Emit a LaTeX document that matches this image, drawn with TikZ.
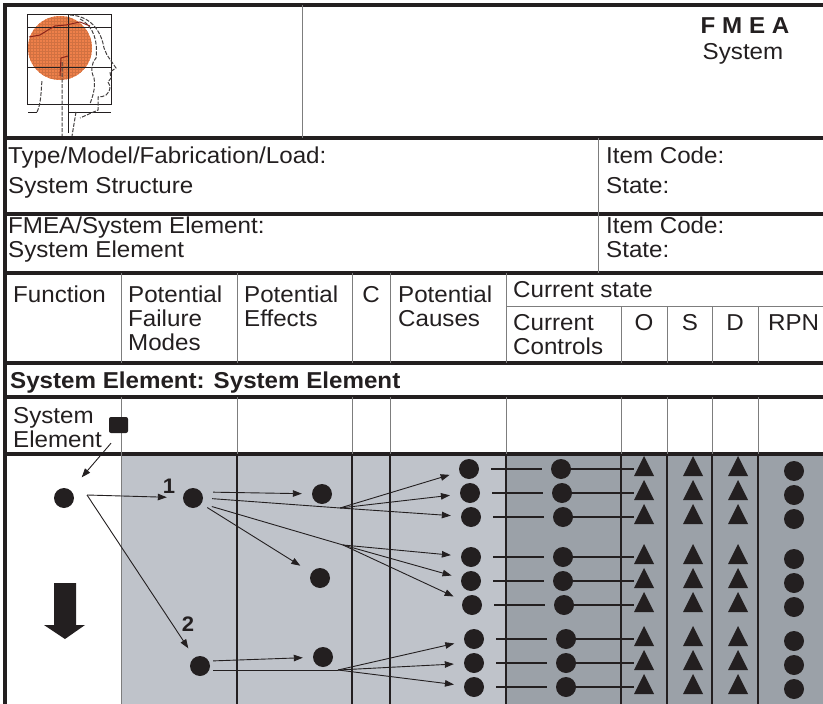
\documentclass[tikz,border=0pt]{standalone}
\usepackage{fontspec}
\setmainfont{Liberation Sans}[FakeStretch=1.05]
\usetikzlibrary{positioning,arrows.meta}

\definecolor{ink}{RGB}{35,31,32}
\definecolor{panel}{RGB}{191,195,202}
\definecolor{panel dark}{RGB}{155,161,168}
\definecolor{rule}{RGB}{125,125,125}
\definecolor{skull}{RGB}{238,128,74}
\definecolor{skull line}{RGB}{140,35,25}

\begin{document}
\begin{tikzpicture}
    [
      x=1pt, y=1pt,
      >/.tip={Triangle[length=9pt,width=6.5pt]},
      font=\fontsize{23}{24}\selectfont,
      text=ink,
      thick rule/.style={draw=ink, line width=3.5pt},
      thin rule/.style={draw=rule, line width=0.8pt},
      panel rule/.style={draw=ink, line width=1.6pt},
      % base of a multi-line cell is the baseline of its last line
      cell/.style={anchor=base west, inner sep=0pt, align=left},
      my dot/.style={circle, fill=ink, inner sep=0pt, minimum size=20pt},
      my tri/.style={inner sep=0pt, minimum width=20pt, minimum height=20pt,
        path picture={\fill [ink] (path picture bounding box.south west)
          -- (path picture bounding box.south east)
          -- (path picture bounding box.north) -- cycle;}},
      link/.style={draw=ink, line width=1.6pt},
      flow/.style={->, draw=ink, line width=0.9pt},
      wire/.style={draw=ink, line width=0.9pt},
      head line/.style={draw=ink!85, line width=1pt, dash pattern=on 4pt off 1.5pt}
    ]
    \useasboundingbox (0,0) rectangle (823,-704);

    % shaded body of the sheet
    \fill [panel] (121,-454) rectangle (506,-704);
    \fill [panel dark] (506,-454) rectangle (823,-704);

    % logo: head in a grid
    \fill [skull] (60,-48) circle (32);
    \begin{scope}
      \clip (60,-48) circle (32);
      \draw [skull!88!black, line width=0.25pt, step=3] (26,-82) grid (94,-14);
    \end{scope}
    \draw [ink, line width=0.8pt] (27,-14) rectangle (111,-104);
    \draw [ink, line width=0.8pt] (27,-27) -- (111,-27) (27,-67) -- (111,-67)
      (68,-14) -- (68,-133) (68,-112) -- (111,-112) (28,-112) -- (37,-112);
    \draw [head line] (70,-15) .. controls (90,-16) and (101,-30) .. (104,-48)
      -- (107,-55) -- (116,-68) -- (110,-72) -- (111,-78) -- (108,-82) -- (110,-86)
      .. controls (110,-95) and (104,-97) .. (98,-97) -- (98,-110) -- (80,-118);
    \draw [head line] (80,-19) .. controls (94,-26) and (98,-42) .. (96,-58)
      .. controls (92,-62) and (90,-70) .. (94,-78) .. controls (96,-88) and (92,-98) .. (90,-104);
    \draw [head line] (37,-112) .. controls (41,-104) and (41,-92) .. (42,-80);
    \draw [head line] (62,-62) -- (62,-136) (76,-112) -- (72,-136);
    \draw [skull line, line width=1pt] (29,-37) -- (40,-35) -- (48,-30) -- (55,-26)
      -- (66,-25) -- (80,-22) -- (90,-26);
    \draw [skull line, line width=1pt] (68,-56) -- (61,-58) -- (60,-76);

    % frame of the sheet
    \draw [thick rule, line width=4.5pt] (3,-5) -- (823,-5);
    \foreach \y in {138,214,273,363,397,454}
      \draw [thick rule] (3,-\y) -- (823,-\y);
    \draw [thick rule] (5,-3) -- (5,-704);
    \draw [thin rule] (302,-5) -- (302,-138);
    \draw [thin rule] (598,-138) -- (598,-273);
    \foreach \x in {121,237,352,390,506}
      \draw [thin rule] (\x,-273) -- (\x,-363);
    \draw [thin rule] (506,-306) -- (823,-306);
    \foreach \x in {621,667,712,758}
      \draw [thin rule] (\x,-306) -- (\x,-363);
    \foreach \x in {121,237,352,390,506,621,667,712,758}
      \draw [thin rule] (\x,-397) -- (\x,-454);
    \draw [thin rule] (121,-454) -- (121,-704);
    \foreach \x in {237,352,390,506,621,667,712,758}
      \draw [panel rule] (\x,-454) -- (\x,-704);

    % title block
    \node (fmea) [anchor=base] at (745,-33) {\bfseries F M E A};
    \node (system) [anchor=base] at (743,-59) {System};
    \node (type) [cell] at (8,-193) {Type/Model/Fabrication/Load:\\[6pt]System Structure};
    \node (code a) [cell] at (606,-193) {Item Code:\\[6pt]State:};
    \node (element) [cell] at (8,-257) {FMEA/System Element:\\System Element};
    \node (code b) [cell] at (606,-257) {Item Code:\\State:};

    % column heads
    \node (h function) [cell] at (13,-302) {Function};
    \node (h modes) [cell] at (128,-350) {Potential\\Failure\\Modes};
    \node (h effects) [cell] at (244,-326) {Potential\\Effects};
    \node (h c) [anchor=base, inner sep=0pt] at (371,-302) {C};
    \node (h causes) [cell] at (398,-326) {Potential\\Causes};
    \node (h state) [cell] at (513,-297) {Current state};
    \node (h controls) [cell] at (513,-354) {Current\\Controls};
    \node (h o) [anchor=base, inner sep=0pt] at (644,-330) {O};
    \node (h s) [anchor=base, inner sep=0pt] at (690,-330) {S};
    \node (h d) [anchor=base, inner sep=0pt] at (735,-330) {D};
    \node (h rpn) [cell] at (768,-330) {RPN};

    \node (se title) [cell] at (10,-388) {\bfseries System Element: System Element};
    \node (se) [cell] at (13,-447) {System\\Element};
    \node (sq) [fill=ink, rounded corners=2pt, inner sep=0pt, minimum width=19pt, minimum height=16pt] at (118.5,-425) {};

    % causes, controls and ratings
    \foreach \cx/\y [count=\i] in {469/469,470/493,471/517,471/557,471/581,472/605,474/639,474/663,474/687} {
      \node (c\i) [my dot] at (\cx,-\y) {};
      \node (k\i) [my dot] at (\cx+92,-\y) {};
      \node (o\i) [my tri] at (644,-\y+3) {};
      \node (s\i) [my tri] at (693,-\y+3) {};
      \node (d\i) [my tri] at (738,-\y+3) {};
      \node (r\i) [my dot] at (794,-\y-2) {};
      \path [link, shorten <=12pt, shorten >=9pt] (c\i) -- (k\i);
      \path [link] (k\i.east) -- (k\i.east -| o\i.west);
    }

    % function, failure modes and effects
    \node (fn) [my dot] at (64,-498) {};
    \node (fm1) [my dot] at (193,-498) {};
    \node (fm2) [my dot] at (200,-666) {};
    \node (ef1) [my dot] at (322,-494) {};
    \node (ef2) [my dot] at (320,-578) {};
    \node (ef3) [my dot] at (323,-657) {};
    \node (n1) [font=\fontsize{21}{21}\selectfont\bfseries] at (169,-486) {1};
    \node (n2) [font=\fontsize{21}{21}\selectfont\bfseries] at (188,-624) {2};
    \coordinate (fork) at (87,-495);
    \coordinate (fan1) at (340,-508);
    \coordinate (fan2) at (343,-545);
    \coordinate (fan3) at (338,-670);

    \path [flow, shorten >=17pt] ([shift={(-7.5,-10)}]sq.south) -- (fn);
    \path [flow, shorten >=16pt] (fork) -- (fm1);
    \path [flow, shorten >=11pt] (fork) -- (fm2);
    \path [flow, shorten <=10pt, shorten >=10pt] ([yshift=6]fm1.east) -- (ef1);
    \path [wire, shorten <=9pt] (fm1.east) -- (fan1);
    \path [wire, shorten <=9pt] ([yshift=-6]fm1.east) -- (fan2);
    \path [flow, shorten <=7pt, shorten >=13pt] (fm1.-35) -- (ef2);
    \path [flow, shorten <=3pt, shorten >=10pt] ([yshift=5]fm2.east) -- (ef3);
    \path [wire, shorten <=3pt] ([yshift=-4]fm2.east) -- (fan3);
    \foreach \i in {1,2,3} \path [flow, shorten >=10pt] (fan1) -- (c\i);
    \foreach \i in {4,5,6} \path [flow, shorten >=10pt] (fan2) -- (c\i);
    \foreach \i in {7,8,9} \path [flow, shorten >=10pt] (fan3) -- (c\i);

    % order of the analysis
    \fill [ink] (54,-583) -- (76,-583) -- (76,-625) -- (85,-625) -- (65,-639)
      -- (44,-625) -- (54,-625) -- cycle;
\end{tikzpicture}
\end{document}
